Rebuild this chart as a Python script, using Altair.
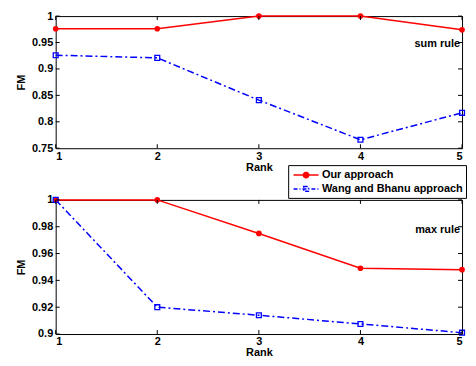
import altair as alt
import pandas as pd

ranks = [1, 2, 3, 4, 5]
series_names = ["Our approach", "Wang and Bhanu approach"]
sum_ours = [0.976, 0.976, 1.0, 1.0, 0.974]
sum_wang = [0.926, 0.921, 0.841, 0.766, 0.817]
max_ours = [1.0, 1.0, 0.975, 0.949, 0.948]
max_wang = [1.0, 0.920, 0.914, 0.9075, 0.901]
sum_yticks = [0.75, 0.8, 0.85, 0.9, 0.95, 1.0]
max_yticks = [0.9, 0.92, 0.94, 0.96, 0.98, 1.0]
rank_ticks = [1, 2, 3, 4, 5]
notes = ["sum rule", "max rule"]

FONT = "Liberation Sans"
RED = "#ff0000"
BLUE = "#0000ff"
W = 409
TICK = 4

CIRCLE_PATH = "M-2.1,0H2.1M-0.45,0A0.45,0.45 0 1,1 0.45,0A0.45,0.45 0 1,1 -0.45,0Z"
SQUARE_PATH = "M-2.1,0H2.1M-0.4,-0.4H0.4V0.4H-0.4Z"


def panel(ours, wang, yticks, ydomain, note, note_pos, height, legend):
    df = pd.DataFrame({
        "Rank": ranks * 2,
        "FM": ours + wang,
        "Method": [series_names[0]] * len(ranks) + [series_names[1]] * len(ranks),
    })
    xscale = alt.Scale(domain=[1, 5], nice=False, zero=False)
    yscale = alt.Scale(domain=ydomain, nice=False, zero=False)
    xaxis = alt.Axis(values=rank_ticks, format="d", ticks=False, domain=False, grid=False,
                     labelOverlap=False, title="Rank", labelPadding=2, titlePadding=0)
    yaxis = alt.Axis(values=yticks, format="~g", ticks=False, domain=False, grid=False,
                     labelOverlap=False, labelSeparation=0, title="FM", labelPadding=3, titlePadding=5)
    xenc = alt.X("Rank:Q", scale=xscale, axis=xaxis)
    yenc = alt.Y("FM:Q", scale=yscale, axis=yaxis)
    base = alt.Chart(df)
    ours_df = base.transform_filter(alt.datum.Method == series_names[0])
    wang_df = base.transform_filter(alt.datum.Method == series_names[1])
    line_red = ours_df.mark_line(strokeWidth=1.5, color=RED).encode(x=xenc, y=yenc)
    line_blue = wang_df.mark_line(strokeWidth=1.5, color=BLUE, strokeDash=[7, 3, 2, 3]).encode(x=xenc, y=yenc)
    pts_red = ours_df.mark_point(shape="circle", filled=True, size=32, color=RED, opacity=1).encode(
        x=xenc, y=yenc)
    pts_blue = wang_df.mark_point(shape="square", filled=False, size=24, strokeWidth=1.3, color=BLUE,
                                  opacity=1).encode(x=xenc, y=yenc)

    xt = pd.DataFrame({"Rank": rank_ticks})
    yt = pd.DataFrame({"FM": yticks})
    xt_bot = alt.Chart(xt).mark_rule(color="black", strokeWidth=1).encode(
        x=xenc, y=alt.value(height), y2=alt.value(height - TICK))
    xt_top = alt.Chart(xt).mark_rule(color="black", strokeWidth=1).encode(
        x=xenc, y=alt.value(0), y2=alt.value(TICK))
    yt_l = alt.Chart(yt).mark_rule(color="black", strokeWidth=1).encode(
        y=yenc, x=alt.value(0), x2=alt.value(TICK))
    yt_r = alt.Chart(yt).mark_rule(color="black", strokeWidth=1).encode(
        y=yenc, x=alt.value(W), x2=alt.value(W - TICK))

    nd = pd.DataFrame({"Rank": [note_pos[0]], "FM": [note_pos[1]], "t": [note]})
    txt = alt.Chart(nd).mark_text(align="right", baseline="middle", font=FONT, fontSize=11,
                                  fontWeight="bold", color="black").encode(
        x=xenc, y=yenc, text="t:N")

    layers = [line_red, line_blue, pts_red, pts_blue, xt_bot, xt_top, yt_l, yt_r, txt]

    if legend:
        leg = alt.Legend(
            title=None, orient="none", legendX=234, legendY=-35,
            strokeColor="black", fillColor="white", padding=3, rowPadding=1,
            labelFont=FONT, labelFontSize=11, labelFontWeight="bold", labelColor="black",
            labelOffset=9, symbolOffset=8, symbolSize=144, symbolStrokeWidth=1.5,
            symbolOpacity=1, cornerRadius=0,
        )
        leg_layer = base.transform_filter("false").mark_point(
            filled=False, opacity=1, strokeWidth=1.5).encode(
            x=xenc, y=yenc,
            color=alt.Color("Method:N", scale=alt.Scale(domain=series_names, range=[RED, BLUE]), legend=leg),
            fill=alt.Fill("Method:N", scale=alt.Scale(domain=series_names, range=[RED, "transparent"]), legend=leg),
            shape=alt.Shape("Method:N", scale=alt.Scale(domain=series_names, range=[CIRCLE_PATH, SQUARE_PATH]),
                            legend=leg),
            strokeDash=alt.StrokeDash("Method:N", scale=alt.Scale(domain=series_names, range=[[1, 0], [4, 2, 1, 2]]),
                                      legend=leg),
        )
        layers.append(leg_layer)

    return alt.layer(*layers).properties(width=W, height=height)


top = panel(sum_ours, sum_wang, sum_yticks, [0.75, 1.0], notes[0], (4.98, 0.947), 133, False)
bottom = panel(max_ours, max_wang, max_yticks, [0.9, 1.0], notes[1], (4.98, 0.9775), 135, True)

chart = alt.vconcat(top, bottom, spacing=52, bounds="flush").resolve_scale(
    x="independent", y="independent",
    color="independent", fill="independent", shape="independent", strokeDash="independent"
).resolve_legend(color="independent", shape="independent", fill="independent", strokeDash="independent").properties(
    padding={"left": 7, "top": 0, "right": 0, "bottom": 0}
).configure_view(stroke="black", strokeWidth=1).configure_axis(
    labelFont=FONT, labelFontSize=11, labelFontWeight="bold", labelColor="black", labelOverlap=False,
    titleFont=FONT, titleFontSize=11, titleFontWeight="bold", titleColor="black"
)

chart.save("out.html", embed_options={"renderer": "svg", "actions": False})
